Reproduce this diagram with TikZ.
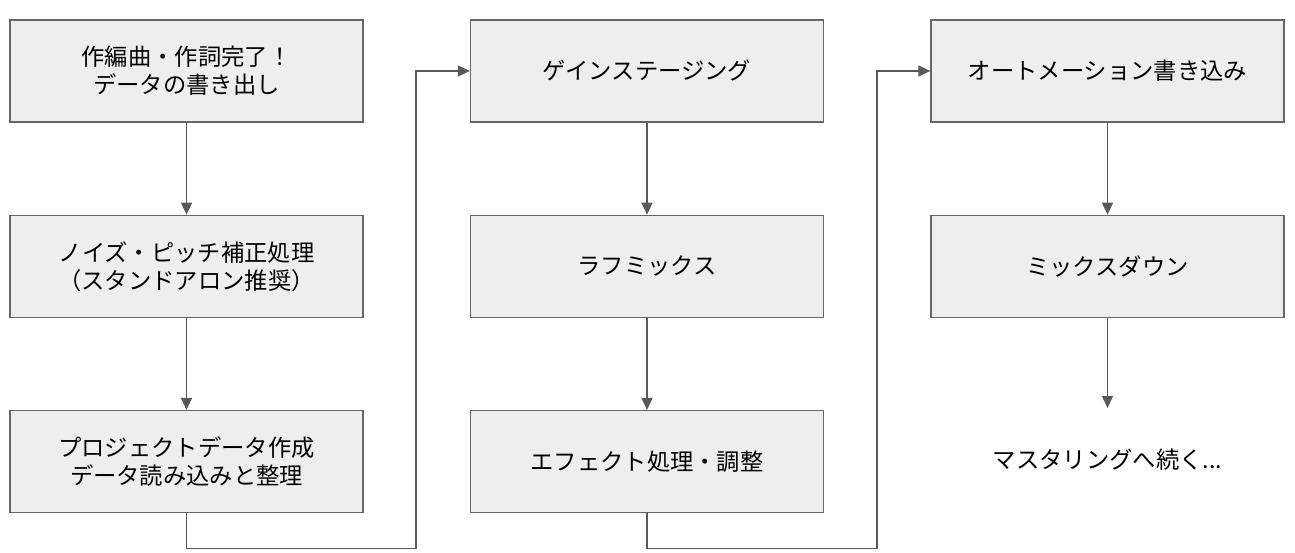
\documentclass[tikz,border=0pt]{standalone}
\usepackage{fontspec}
\setmainfont{Noto Sans CJK JP}
\usepackage{tikz}
\usetikzlibrary{positioning,arrows.meta}

\definecolor{boxfill}{HTML}{EEEEEE}
\definecolor{boxline}{HTML}{666666}
\definecolor{arrline}{HTML}{595959}

\tikzset{
	stage/.style={draw=boxline, fill=boxfill, line width=1.3pt, minimum width=353pt, minimum height=102pt, align=center, font=\fontsize{23.3pt}{28pt}\selectfont, inner sep=0pt},
	flow/.style={draw=arrline, line width=1.3pt, -{Triangle[length=12pt,width=11pt]}},
}

\begin{document}
\begin{tikzpicture}[x=1pt, y=-1pt, node distance=92pt]
	\useasboundingbox (0,0) rectangle (1295,552);

	% Column 1
	\node [stage] (write) at (186.5,71) {作編曲・作詞完了！\\データの書き出し};
	\node [stage, below=of write] (noise) {ノイズ・ピッチ補正処理\\（スタンドアロン推奨）};
	\node [stage, below=of noise] (project) {プロジェクトデータ作成\\データ読み込みと整理};

	% Column 2
	\node [stage] (gain) at (647,71) {ゲインステージング};
	\node [stage, below=of gain] (rough) {ラフミックス};
	\node [stage, below=of rough] (effect) {エフェクト処理・調整};

	% Column 3
	\node [stage] (auto) at (1107.5,71) {オートメーション書き込み};
	\node [stage, below=of auto] (mixdown) {ミックスダウン};
	\node [font=\fontsize{23.3pt}{28pt}\selectfont] (master) at (1107.5,460) {マスタリングへ続く...};
	\coordinate (masterin) at (1107.5,408);

	\draw [flow] (write) -- (noise);
	\draw [flow] (noise) -- (project);
	\draw [flow] (project.south) -- ++(0,35) -| (416,71) -- (gain.west);

	\draw [flow] (gain) -- (rough);
	\draw [flow] (rough) -- (effect);
	\draw [flow] (effect.south) -- ++(0,35) -| (877,71) -- (auto.west);

	\draw [flow] (auto) -- (mixdown);
	\draw [flow] (mixdown) -- (masterin);
\end{tikzpicture}
\end{document}
